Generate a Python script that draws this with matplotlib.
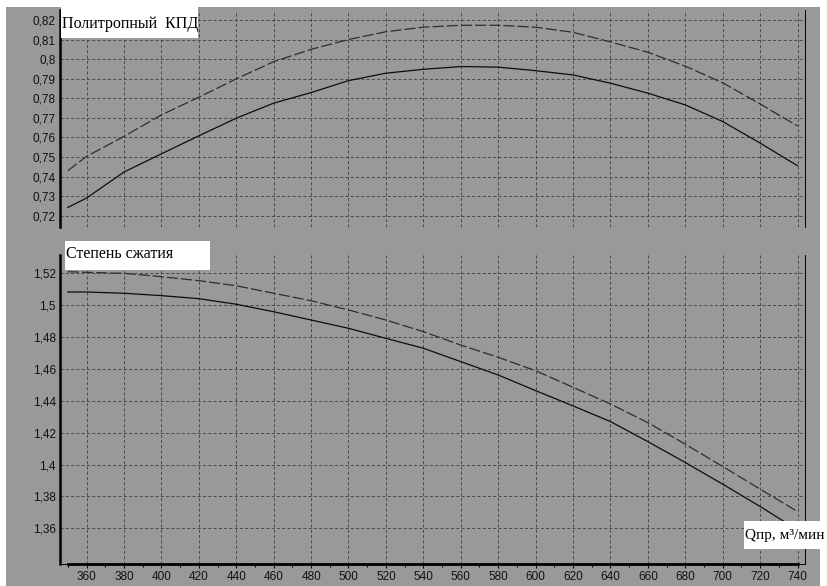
import matplotlib
matplotlib.use('Agg')
import matplotlib.pyplot as plt
from matplotlib.patches import Rectangle
from matplotlib.ticker import FuncFormatter, MultipleLocator


width = 828
height = 586
dpi = 100
figsize = (width/dpi, height/dpi)

bg = '#999999'
grid_color = '#4a4a4a'

# расход, м3/мин
q = [350, 360, 380, 400, 420, 440, 460, 480, 500, 520, 540,
     560, 580, 600, 620, 640, 660, 680, 700, 720, 740]

# политропный КПД
eta_dashed = [0.743, 0.7503, 0.7605, 0.7715, 0.7805, 0.7899, 0.7987, 0.805,
              0.810, 0.814, 0.8163, 0.8173, 0.8173, 0.8163, 0.8137, 0.8088,
              0.8035, 0.7964, 0.7879, 0.7771, 0.7658]
eta_solid = [0.7242, 0.729, 0.7423, 0.7516, 0.7608, 0.7698, 0.7775, 0.7829,
             0.789, 0.7928, 0.7948, 0.7962, 0.7959, 0.7941, 0.7919, 0.7877,
             0.7826, 0.7766, 0.7681, 0.7571, 0.7455]

# степень сжатия
eps_dashed = [1.521, 1.5206, 1.52, 1.5179, 1.5154, 1.5122, 1.5075, 1.5028,
              1.497, 1.4907, 1.4834, 1.475, 1.4673, 1.4589, 1.4485, 1.438,
              1.4263, 1.4128, 1.3988, 1.3846, 1.3705]
eps_solid = [1.5083, 1.5083, 1.5075, 1.506, 1.5041, 1.5006, 1.4959, 1.4907,
             1.4855, 1.4792, 1.473, 1.4646, 1.4562, 1.4464, 1.4368, 1.427,
             1.4144, 1.4013, 1.3877, 1.3737, 1.359]

eta_ticks = [0.72, 0.73, 0.74, 0.75, 0.76, 0.77, 0.78, 0.79, 0.80, 0.81, 0.82]
eps_ticks = [1.36, 1.38, 1.40, 1.42, 1.44, 1.46, 1.48, 1.50, 1.52]
q_ticks = list(range(360, 741, 20))

plt.rcParams['lines.scale_dashes'] = False
plt.rcParams['font.family'] = ['Liberation Sans', 'DejaVu Sans']


def comma(v, pos):
    return ('%g' % round(v, 4)).replace('.', ',')


def px(x, y):
    # пиксели картинки -> доли фигуры
    return x / width, 1 - y / height


def style_axes(ax, yticks, ylim):
    ax.set_facecolor(bg)
    ax.set_xlim(345.8, 744.0)
    ax.set_ylim(*ylim)
    ax.set_xticks(q_ticks)
    ax.set_yticks(yticks)
    ax.yaxis.set_major_formatter(FuncFormatter(comma))
    ax.grid(True, color=grid_color, lw=0.7, ls=(0, (2.2, 1.6)))
    ax.tick_params(axis='y', length=0, pad=3, labelsize=8.5, colors='#111111')
    for s in ['top', 'bottom']:
        ax.spines[s].set_visible(False)
    ax.spines['left'].set_linewidth(1.8)
    ax.spines['right'].set_linewidth(0.7)


def plot_curves(ax, dashed, solid):
    ax.plot(q, dashed, color='#2e2e2e', lw=0.9, ls=(0, (8, 2.2)))
    ax.plot(q, solid, color='#0d0d0d', lw=0.9)


def white_label(fig, x0, y0, x1, y1, text, tx, ty, size):
    fx0, fy1 = px(x0, y1)
    fx1, fy0 = px(x1, y0)
    fig.patches.append(Rectangle((fx0, fy1), fx1 - fx0, fy0 - fy1,
                                 transform=fig.transFigure, facecolor='white',
                                 edgecolor='none', zorder=5))
    x, y = px(tx, ty)
    fig.text(x, y, text, fontsize=size, va='baseline', ha='left', zorder=6,
             family=['Liberation Serif', 'DejaVu Serif'])


fig = plt.figure(figsize=figsize, dpi=dpi, facecolor='white')
fig.patches.append(Rectangle(px(6, 586), (820 - 6) / width, (586 - 7) / height,
                             transform=fig.transFigure, facecolor=bg,
                             edgecolor='none', zorder=-10))

l, b = px(60, 227)
r, t = px(805, 10)
ax1 = fig.add_axes([l, b, r - l, t - b])
style_axes(ax1, eta_ticks, (0.7142, 0.8251))
ax1.tick_params(axis='x', length=0, labelbottom=False)
plot_curves(ax1, eta_dashed, eta_solid)

l, b = px(60, 564)
r, t = px(805, 255)
ax2 = fig.add_axes([l, b, r - l, t - b])
style_axes(ax2, eps_ticks, (1.3376, 1.5315))
ax2.spines['bottom'].set_visible(True)
ax2.spines['bottom'].set_linewidth(2.0)
ax2.spines['bottom'].set_bounds(q[0], q[-1])
ax2.axhline(1.3376, color='black', lw=0.7, clip_on=False)
ax2.xaxis.set_minor_locator(MultipleLocator(10))
ax2.tick_params(axis='x', which='major', length=3, width=0.8, pad=2,
                labelsize=8.5, colors='#111111')
ax2.tick_params(axis='x', which='minor', length=2, width=0.8)
plot_curves(ax2, eps_dashed, eps_solid)

white_label(fig, 61, 7, 198, 38, 'Политропный  КПД', 62, 27.5, 11.5)
white_label(fig, 65, 241, 210, 270, 'Степень сжатия', 66, 257.5, 11.5)
white_label(fig, 744, 521, 828, 549, 'Qпр, м³/мин', 745, 539.5, 11)

fig.savefig('out.png', dpi=dpi, facecolor='white')
